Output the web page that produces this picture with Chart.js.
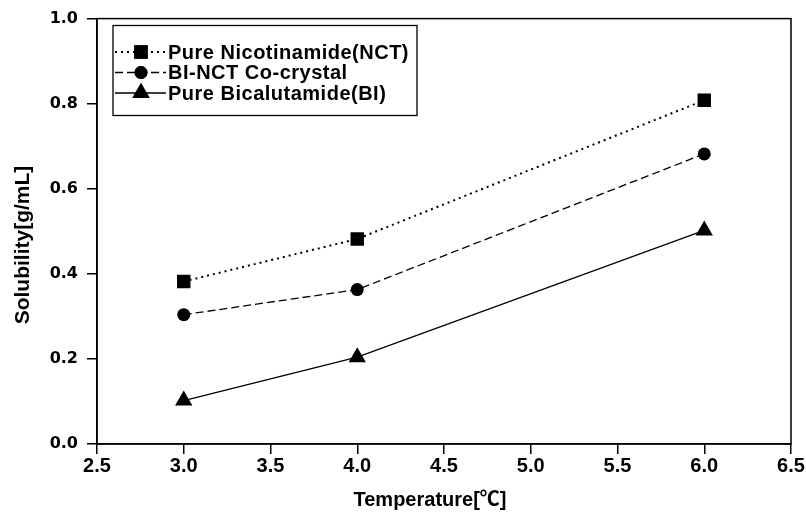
<!DOCTYPE html>
<html>
<head>
<meta charset="utf-8">
<script src="https://cdn.jsdelivr.net/npm/chart.js@4.4.0/dist/chart.umd.min.js"></script>
<style>
  html, body { margin: 0; padding: 0; background: #fff; }
  canvas { display: block; }
</style>
</head>
<body>
<canvas id="myChart" width="806" height="519"></canvas>
<script>
// data
var temps = [3.0, 4.0, 6.0];
var nctValues = [0.382, 0.482, 0.808];
var cocrystalValues = [0.304, 0.363, 0.682];
var biValues = [0.102, 0.204, 0.502];
var seriesNames = ['Pure Nicotinamide(NCT)', 'BI-NCT Co-crystal', 'Pure Bicalutamide(BI)'];
var xTitle = 'Temperature[℃]';
var yTitle = 'Solubility[g/mL]';

function toPoints(xs, ys) {
    return xs.map(function (x, i) { return { x: x, y: ys[i] }; });
}

// frame around the plot area, axis titles and boxed legend
var framePlugin = {
    id: 'frame',
    afterDraw: function (chart) {
        var ctx = chart.ctx, a = chart.chartArea;
        ctx.save();
        ctx.strokeStyle = '#000';
        ctx.fillStyle = '#000';
        ctx.lineWidth = 1.5;
        ctx.strokeRect(a.left, a.top, a.right - a.left, a.bottom - a.top);

        // axis titles (the original sits a little off centre)
        ctx.textAlign = 'center';
        ctx.textBaseline = 'middle';
        ctx.font = 'bold 20px "Liberation Sans", "Noto Sans CJK KR", sans-serif';
        ctx.fillText(xTitle, 430, 500);
        ctx.save();
        ctx.translate(23, 245);
        ctx.rotate(-Math.PI / 2);
        ctx.font = 'bold 21px "Liberation Sans", Arial, sans-serif';
        ctx.fillText(yTitle, 0, 0);
        ctx.restore();

        // legend
        ctx.lineWidth = 1.3;
        ctx.strokeRect(113, 25.5, 304, 90);
        chart.data.datasets.forEach(function (ds, i) {
            var y = 52 + i * 20.5;
            ctx.beginPath();
            ctx.setLineDash(ds.borderDash || []);
            ctx.lineWidth = ds.borderWidth;
            ctx.moveTo(115, y);
            ctx.lineTo(166, y);
            ctx.stroke();
            ctx.setLineDash([]);
            Chart.helpers.drawPoint(ctx, {
                pointStyle: ds.pointStyle,
                radius: ds.pointRadius,
                rotation: 0,
                borderWidth: 0
            }, 141, y);
            ctx.fill();
            ctx.font = 'bold 20px "Liberation Sans", Arial, sans-serif';
            ctx.letterSpacing = '0.5px';
            ctx.textBaseline = 'middle';
            ctx.textAlign = 'left';
            ctx.fillText(ds.label, 168, y + 1);
            ctx.letterSpacing = '0px';
        });
        ctx.restore();
    }
};

new Chart(document.getElementById('myChart'), {
    type: 'scatter',
    data: {
        datasets: [{
            label: seriesNames[0],
            data: toPoints(temps, nctValues),
            showLine: true,
            borderColor: '#000',
            backgroundColor: '#000',
            borderWidth: 2,
            borderDash: [2, 4],
            pointStyle: 'rect',
            pointRadius: 9.5,
            pointBorderWidth: 0
        }, {
            label: seriesNames[1],
            data: toPoints(temps, cocrystalValues),
            showLine: true,
            borderColor: '#000',
            backgroundColor: '#000',
            borderWidth: 1.3,
            borderDash: [8, 4],
            pointStyle: 'circle',
            pointRadius: 6.5,
            pointBorderWidth: 0
        }, {
            label: seriesNames[2],
            data: toPoints(temps, biValues),
            showLine: true,
            borderColor: '#000',
            backgroundColor: '#000',
            borderWidth: 1.3,
            pointStyle: 'triangle',
            pointRadius: 10,
            pointBorderWidth: 0
        }]
    },
    options: {
        responsive: false,
        animation: false,
        events: [],
        layout: { padding: { top: 17, right: 15, left: 0, bottom: 0 } },
        plugins: {
            legend: { display: false },
            tooltip: { enabled: false }
        },
        scales: {
            x: {
                type: 'linear',
                min: 2.5,
                max: 6.5,
                afterFit: function (scale) { scale.height = 75; },
                ticks: {
                    stepSize: 0.5,
                    color: '#000',
                    font: { family: 'Liberation Sans, Arial, sans-serif', size: 20, weight: 'bold' },
                    padding: 0,
                    maxRotation: 0,
                    callback: function (v) { return v.toFixed(1); }
                },
                grid: { drawOnChartArea: false, tickLength: 10, color: '#000', lineWidth: 1.5 },
                border: { color: '#000', width: 1.5 }
            },
            y: {
                min: 0,
                max: 1,
                afterFit: function (scale) { scale.width = 97; },
                ticks: {
                    stepSize: 0.2,
                    color: '#000',
                    font: { family: 'DejaVu Sans, sans-serif', size: 16, weight: 'bold' },
                    padding: 9,
                    callback: function (v) { return v.toFixed(1); }
                },
                grid: { drawOnChartArea: false, tickLength: 10, color: '#000', lineWidth: 1.5 },
                border: { color: '#000', width: 1.5 }
            }
        }
    },
    plugins: [framePlugin]
});
</script>
</body>
</html>
